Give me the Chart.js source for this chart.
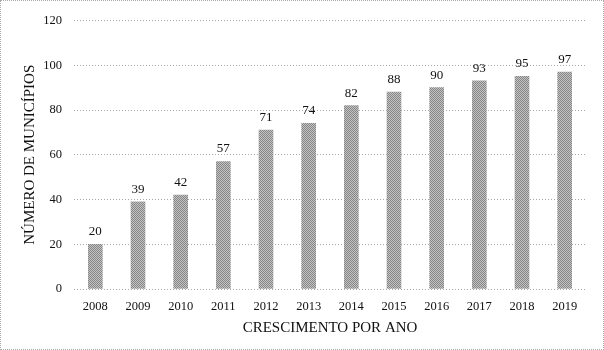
<!DOCTYPE html>
<html lang="pt">
<head>
<meta charset="UTF-8">
<title>Crescimento por ano</title>
<script src="https://cdn.jsdelivr.net/npm/chart.js"></script>
<style>
  body { margin: 0; background: #fff; }
  #box { width: 604px; height: 350px; box-sizing: border-box; border: 1px dotted #aaa; }
  canvas { display: block; }
</style>
</head>
<body>
<div id="box"><canvas id="chart" width="602" height="348"></canvas></div>

<script>
const years = ['2008', '2009', '2010', '2011', '2012', '2013', '2014', '2015', '2016', '2017', '2018', '2019'];
const municipios = [20, 39, 42, 57, 71, 74, 82, 88, 90, 93, 95, 97];
const yTicks = [0, 20, 40, 60, 80, 100, 120];

const serif = '"Liberation Serif", "Times New Roman", serif';

// little dotted fill like the original bars
function dotPattern() {
  const c = document.createElement('canvas');
  c.width = 2; c.height = 2;
  const g = c.getContext('2d');
  g.fillStyle = '#c4c4c4';
  g.fillRect(0, 0, 2, 2);
  g.fillStyle = '#858585';
  g.fillRect(0, 0, 1, 1);
  g.fillRect(1, 1, 1, 1);
  return g.createPattern(c, 'repeat');
}

// value over each bar
const valueLabels = {
  id: 'valueLabels',
  afterDatasetsDraw(chart) {
    const ctx = chart.ctx;
    const meta = chart.getDatasetMeta(0);
    ctx.save();
    ctx.font = '13px ' + serif;
    ctx.fillStyle = '#111';
    ctx.textAlign = 'center';
    ctx.textBaseline = 'alphabetic';
    meta.data.forEach((bar, i) => {
      ctx.fillText(municipios[i], bar.x, bar.y - 9);
    });
    ctx.restore();
  }
};

const ctx = document.getElementById('chart').getContext('2d');
new Chart(ctx, {
  type: 'bar',
  data: {
    labels: years,
    datasets: [{
      data: municipios,
      backgroundColor: dotPattern(),
      borderWidth: 0,
      barThickness: 14
    }]
  },
  options: {
    responsive: false,
    animation: false,
    layout: { padding: { top: 18, right: 17, left: 0, bottom: 0 } },
    plugins: { legend: { display: false }, tooltip: { enabled: false } },
    scales: {
      x: {
        grid: { display: false, drawTicks: false },
        border: { display: false },
        ticks: { color: '#111', font: { family: serif, size: 12.5 }, padding: 10 },
        title: {
          display: true,
          text: 'CRESCIMENTO POR ANO',
          color: '#111',
          font: { family: serif, size: 15 },
          padding: { top: 0, bottom: 12 }
        },
        afterFit(scale) { scale.height = 60; }
      },
      y: {
        min: 0,
        max: 120,
        afterBuildTicks(scale) { scale.ticks = yTicks.map(v => ({ value: v })); },
        grid: { color: '#a8a8a8', drawTicks: false },
        border: { display: false, dash: [1, 2] },
        ticks: { color: '#111', font: { family: serif, size: 12.5 }, padding: 12 },
        title: {
          display: true,
          text: 'NÚMERO DE MUNICÍPIOS',
          color: '#111',
          font: { family: serif, size: 15 },
          padding: { top: 20, bottom: 0 }
        },
        afterFit(scale) { scale.width = 73; }
      }
    }
  },
  plugins: [valueLabels]
});
</script>
</body>
</html>
